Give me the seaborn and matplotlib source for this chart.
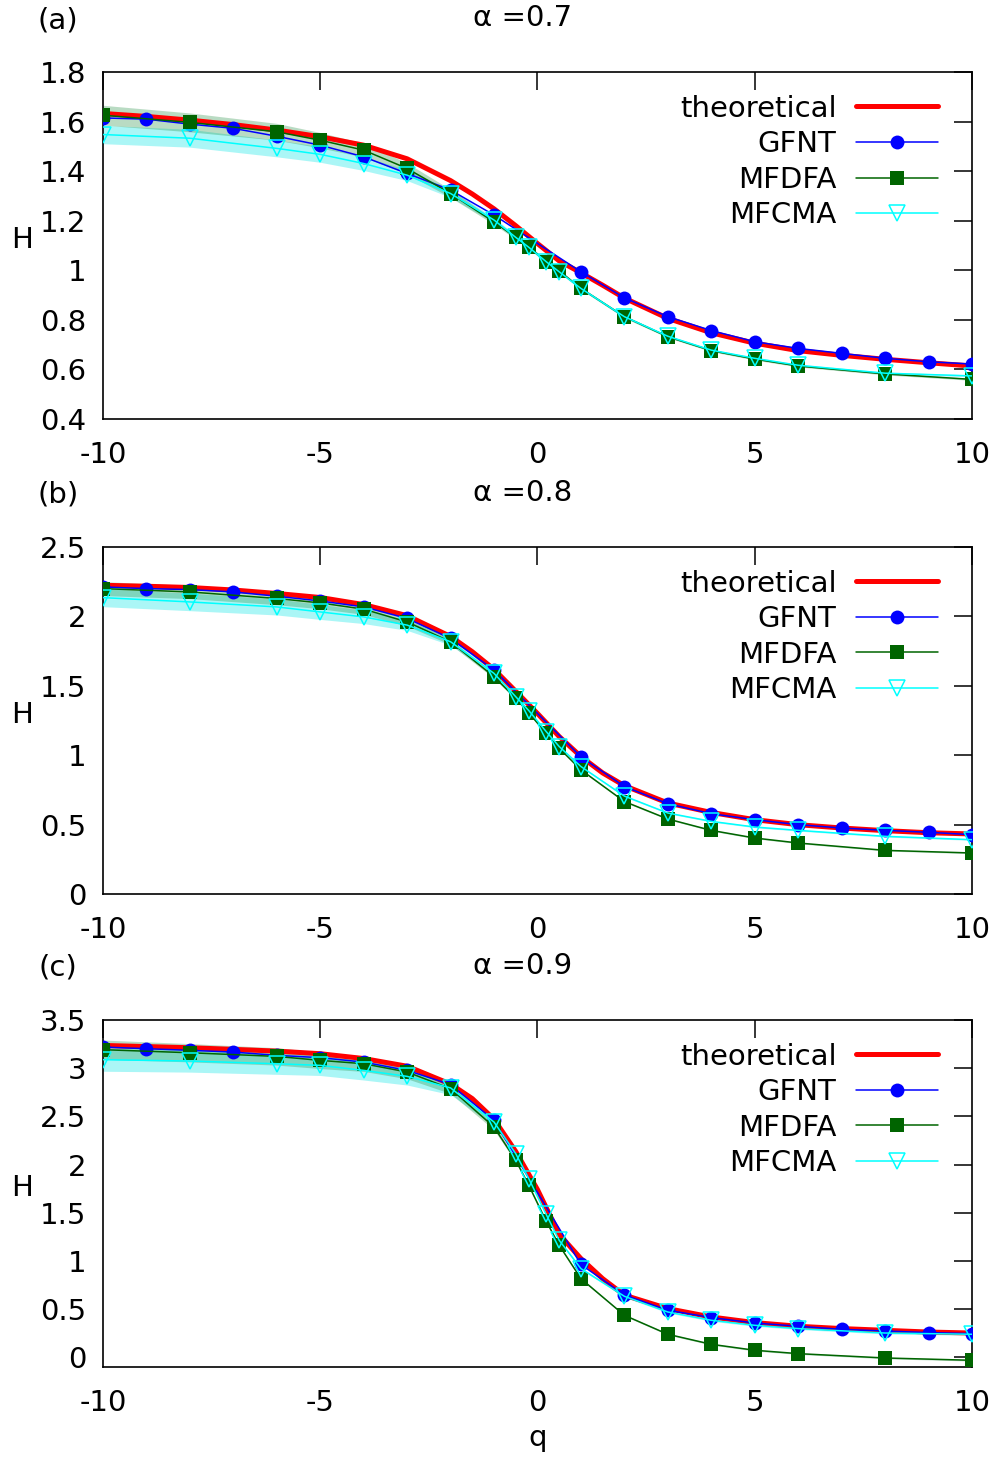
import matplotlib
matplotlib.use("Agg")
import matplotlib.pyplot as plt
import seaborn as sns
from matplotlib.ticker import FixedLocator, FuncFormatter

# ---------------- data ----------------
q_theory = [-10, -9, -8, -7, -6, -5, -4, -3, -2, -1.5, -1, -0.5, 0, 0.5, 1, 1.5, 2, 3, 4, 5, 6, 7, 8, 9, 10]
q_gfnt = [-10, -9, -8, -7, -6, -5, -4, -3, -2, -1, 1, 2, 3, 4, 5, 6, 7, 8, 9, 10]
q_mf = [-10, -8, -6, -5, -4, -3, -2, -1, -0.5, -0.2, 0.2, 0.5, 1, 2, 3, 4, 5, 6, 8, 10]

# panel (a) alpha = 0.7
theo_a = [1.633, 1.621, 1.606, 1.588, 1.566, 1.539, 1.505, 1.450, 1.362, 1.308, 1.248, 1.180, 1.108,
          1.038, 0.990, 0.940, 0.888, 0.806, 0.748, 0.706, 0.676, 0.657, 0.641, 0.627, 0.614]
gfnt_a = [1.615, 1.610, 1.590, 1.573, 1.541, 1.505, 1.458, 1.391, 1.324, 1.223,
          0.994, 0.889, 0.813, 0.757, 0.712, 0.685, 0.665, 0.645, 0.631, 0.622]
mfdfa_a = [1.626, 1.597, 1.559, 1.525, 1.485, 1.411, 1.310, 1.195, 1.133, 1.095,
           1.035, 0.998, 0.927, 0.813, 0.732, 0.676, 0.642, 0.614, 0.582, 0.560]
mfcma_a = [1.548, 1.533, 1.492, 1.468, 1.431, 1.384, 1.310, 1.203, 1.133, 1.093,
           1.035, 0.994, 0.927, 0.813, 0.734, 0.678, 0.645, 0.617, 0.585, 0.574]
mfdfa_err_a = [0.040, 0.038, 0.034, 0.031, 0.028, 0.022, 0.016, 0.010, 0.008, 0.007,
               0.006, 0.005, 0.005, 0.005, 0.004, 0.004, 0.004, 0.004, 0.004, 0.004]
mfcma_err_a = [0.037, 0.036, 0.034, 0.032, 0.028, 0.022, 0.016, 0.010, 0.008, 0.007,
               0.006, 0.005, 0.005, 0.005, 0.004, 0.004, 0.004, 0.004, 0.004, 0.004]

# panel (b) alpha = 0.8
theo_b = [2.224, 2.217, 2.208, 2.190, 2.165, 2.136, 2.085, 2.005, 1.855, 1.745, 1.618, 1.460, 1.300,
          1.134, 0.990, 0.872, 0.780, 0.655, 0.587, 0.535, 0.499, 0.475, 0.456, 0.441, 0.432]
gfnt_b = [2.212, 2.200, 2.193, 2.176, 2.145, 2.111, 2.068, 1.985, 1.841, 1.613,
          0.988, 0.774, 0.650, 0.578, 0.535, 0.499, 0.475, 0.458, 0.444, 0.427]
mfdfa_b = [2.200, 2.176, 2.129, 2.097, 2.052, 1.960, 1.817, 1.565, 1.410, 1.304,
           1.158, 1.050, 0.894, 0.666, 0.540, 0.458, 0.403, 0.367, 0.314, 0.295]
mfcma_b = [2.135, 2.104, 2.068, 2.032, 1.996, 1.937, 1.817, 1.589, 1.421, 1.321,
           1.170, 1.062, 0.918, 0.705, 0.583, 0.523, 0.482, 0.458, 0.415, 0.391]
mfdfa_err_b = [0.050, 0.048, 0.045, 0.042, 0.038, 0.030, 0.020, 0.012, 0.010, 0.008,
               0.007, 0.006, 0.006, 0.006, 0.005, 0.005, 0.005, 0.005, 0.005, 0.005]
mfcma_err_b = [0.065, 0.063, 0.058, 0.054, 0.048, 0.038, 0.025, 0.015, 0.012, 0.010,
               0.008, 0.007, 0.006, 0.006, 0.005, 0.005, 0.005, 0.005, 0.005, 0.005]

# panel (c) alpha = 0.9
theo_c = [3.236, 3.224, 3.212, 3.195, 3.177, 3.150, 3.100, 3.020, 2.835, 2.684, 2.470, 2.135, 1.740,
          1.275, 1.024, 0.816, 0.645, 0.505, 0.418, 0.360, 0.322, 0.298, 0.280, 0.262, 0.252]
gfnt_c = [3.219, 3.202, 3.185, 3.167, 3.133, 3.109, 3.063, 2.977, 2.830, 2.458,
          0.963, 0.647, 0.488, 0.412, 0.356, 0.322, 0.290, 0.273, 0.256, 0.246]
mfdfa_c = [3.192, 3.160, 3.122, 3.081, 3.046, 2.960, 2.787, 2.389, 2.044, 1.784,
           1.412, 1.162, 0.816, 0.436, 0.239, 0.135, 0.073, 0.038, -0.007, -0.031]
mfcma_c = [3.088, 3.074, 3.046, 3.029, 2.977, 2.915, 2.795, 2.441, 2.113, 1.854,
           1.483, 1.214, 0.920, 0.633, 0.470, 0.384, 0.332, 0.298, 0.252, 0.239]
mfdfa_err_c = [0.100, 0.095, 0.090, 0.085, 0.080, 0.070, 0.050, 0.030, 0.020, 0.015,
               0.012, 0.010, 0.010, 0.008, 0.008, 0.008, 0.008, 0.008, 0.008, 0.008]
mfcma_err_c = [0.120, 0.115, 0.110, 0.105, 0.100, 0.090, 0.070, 0.040, 0.025, 0.020,
               0.015, 0.012, 0.010, 0.010, 0.010, 0.010, 0.010, 0.010, 0.010, 0.010]

panel_labels = ["(a)", "(b)", "(c)"]
titles = ["α =0.7", "α =0.8", "α =0.9"]
xticks = [-10, -5, 0, 5, 10]
yticks_a = [0.4, 0.6, 0.8, 1.0, 1.2, 1.4, 1.6, 1.8]
yticks_b = [0, 0.5, 1.0, 1.5, 2.0, 2.5]
yticks_c = [0, 0.5, 1.0, 1.5, 2.0, 2.5, 3.0, 3.5]
ylims = [(0.4, 1.8), (0.0, 2.5), (-0.1, 3.5)]

# ---------------- style ----------------
sns.set_style("white")
plt.rcParams['font.family'] = ['DejaVu Sans']
plt.rcParams['axes.unicode_minus'] = False
plt.rcParams['text.color'] = 'black'
plt.rcParams['axes.labelcolor'] = 'black'
plt.rcParams['xtick.color'] = 'black'
plt.rcParams['ytick.color'] = 'black'
FS = 21

fig = plt.figure(figsize=(9.97, 14.59), dpi=100)

panels = [
    (theo_a, gfnt_a, mfdfa_a, mfcma_a, mfdfa_err_a, mfcma_err_a, yticks_a),
    (theo_b, gfnt_b, mfdfa_b, mfcma_b, mfdfa_err_b, mfcma_err_b, yticks_b),
    (theo_c, gfnt_c, mfdfa_c, mfcma_c, mfdfa_err_c, mfcma_err_c, yticks_c),
]
bottoms = [0.7128, 0.3873, 0.0631]

fmt = FuncFormatter(lambda v, p: "%g" % round(v, 3))

for i, (theo, gfnt, dfa, cma, dfa_e, cma_e, yt) in enumerate(panels):
    ax = fig.add_axes([0.1033, bottoms[i], 0.8716, 0.2378])
    # uncertainty bands
    ax.fill_between(q_mf, [c - e for c, e in zip(cma, cma_e)], [c + e for c, e in zip(cma, cma_e)],
                    color="#00e5e5", alpha=0.33, lw=0, zorder=1)
    ax.fill_between(q_mf, [d - e for d, e in zip(dfa, dfa_e)], [d + e for d, e in zip(dfa, dfa_e)],
                    color="#1a8a3a", alpha=0.30, lw=0, zorder=1.5)
    sns.lineplot(x=q_theory, y=theo, ax=ax, color="#ff0000", lw=3.6, label="theoretical", zorder=3)
    sns.lineplot(x=q_gfnt, y=gfnt, ax=ax, color="#0000ff", lw=1.1, marker="o", ms=10,
                 mec="#0000ff", mfc="#0000ff", mew=0, label="GFNT", zorder=4)
    sns.lineplot(x=q_mf, y=dfa, ax=ax, color="#006400", lw=1.1, marker="s", ms=10,
                 mec="#006400", mfc="#006400", mew=0, label="MFDFA", zorder=5)
    sns.lineplot(x=q_mf, y=cma, ax=ax, color="#00ffff", lw=1.1, marker="v", ms=11,
                 mec="#00ffff", mfc="none", mew=1.1, label="MFCMA", zorder=6)

    ax.set_xlim(-10, 10)
    ax.set_ylim(*ylims[i])
    ax.xaxis.set_major_locator(FixedLocator(xticks))
    ax.yaxis.set_major_locator(FixedLocator(yt))
    ax.xaxis.set_major_formatter(fmt)
    ax.yaxis.set_major_formatter(fmt)
    ax.tick_params(axis="both", which="major", direction="in", length=13, width=1.1,
                   top=True, right=True, labelsize=FS, colors="black")
    ax.tick_params(axis="x", pad=16)
    ax.tick_params(axis="y", pad=12)
    for s in ax.spines.values():
        s.set_visible(True)
        s.set_color("black")
        s.set_linewidth(1.2)

    ax.set_ylabel("H", fontsize=FS, rotation=0, va="center", ha="center", color="black")
    ax.yaxis.set_label_coords(-0.093, 0.515)
    ax.set_xlabel("")
    ax.text(0.483, 1.155, titles[i], transform=ax.transAxes, fontsize=FS, ha="center", va="center",
            color="black")
    ax.text(-0.052, 1.15, panel_labels[i], transform=ax.transAxes, fontsize=FS, ha="center", va="center",
            color="black")

    h, l = ax.get_legend_handles_labels()
    ax.legend(h, l, loc="upper right", bbox_to_anchor=(0.961, 0.935), markerfirst=False,
              frameon=False, fontsize=FS, handlelength=2.83, handletextpad=0.65,
              labelspacing=0.26, borderpad=0, borderaxespad=0, numpoints=1, labelcolor="black")
    if i == 2:
        ax.set_xlabel("q", fontsize=FS, color="black")
        ax.xaxis.set_label_coords(0.5, -0.165)

fig.savefig("out.png", dpi=100)
